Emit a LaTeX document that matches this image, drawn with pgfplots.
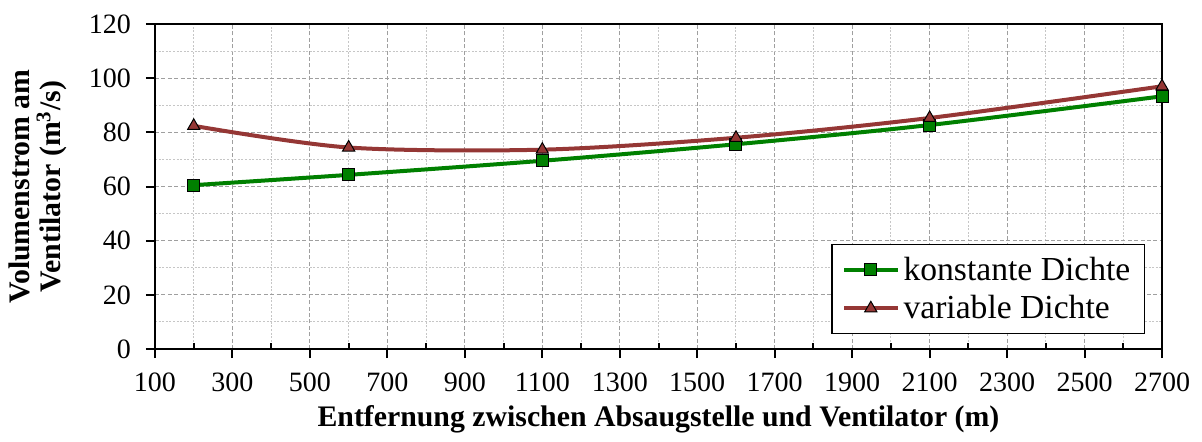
\documentclass[border=0pt]{standalone}
\usepackage{pgfplots}
\pgfplotsset{compat=1.18}
\usepackage{fontspec}
\setmainfont{Liberation Serif}
\definecolor{cgreen}{RGB}{0,128,0}
\definecolor{cred}{RGB}{149,55,53}
\begin{document}
\begin{tikzpicture}
\useasboundingbox (-77.5pt,-46pt) rectangle (523.5pt,174.5pt);
\begin{axis}[
  at={(0,0)}, anchor=south west,
  scale only axis, width=503.5pt, height=162.5pt,
  xmin=100, xmax=2700, ymin=0, ymax=120,
  xtick={100,300,...,2700}, ytick={0,20,...,120},
  minor xtick={200,400,...,2600}, minor ytick={10,30,...,110},
  xtick pos=bottom, ytick pos=left,
  grid=both,
  major grid style={gray!75, dash pattern=on 2pt off 1.2pt, line width=0.5pt},
  minor grid style={gray!45, dash pattern=on 1pt off 0.8pt, line width=0.5pt},
  axis line style={line width=1pt},
  tick align=outside,
  major tick length=4.5pt,
  minor tick length=3pt,
  tick style={black, line width=1pt},
  minor x tick style={yshift=3pt},
  minor y tick style={draw=none},
  /pgf/number format/assume math mode=true,
  /pgf/number format/1000 sep={},
  ticklabel style={font=\fontsize{14}{16}\selectfont},
  xticklabel style={yshift=-4pt},
  yticklabel style={xshift=-4pt},
  xlabel={\textbf{Entfernung zwischen Absaugstelle und Ventilator (m)}},
  ylabel={\textbf{Volumenstrom am}\\\textbf{Ventilator (m\textsuperscript{3}/s)}},
  label style={font=\fontsize{14.9}{15.5}\selectfont},
  ylabel style={align=center, yshift=4pt},
  legend style={at={(0.983,0.046)}, anchor=south east, draw=black, line width=0.6pt,
    font=\fontsize{16.8}{19}\selectfont, inner xsep=5pt, inner ysep=4pt,
    row sep=2pt},
  legend cell align=left,
  legend image code/.code={\draw[mark repeat=2,mark phase=2] plot coordinates {(0cm,0cm) (0.47cm,0cm) (0.94cm,0cm)};},
]
\addplot[cgreen, line width=2pt, smooth, mark=square*,
  mark options={fill=cgreen, draw=black, line width=0.5pt, solid}, mark size=3pt]
  coordinates {(200,60.5) (600,64.3) (1100,69.5) (1600,75.6) (2100,82.7) (2700,93.3)};
\addlegendentry{konstante Dichte}
\addplot[cred, line width=2pt, smooth, mark=triangle*,
  mark options={fill=cred, draw=black, line width=0.5pt, solid}, mark size=3.5pt]
  coordinates {(200,82.4) (600,74.4) (1100,73.6) (1600,78.0) (2100,85.3) (2700,97.0)};
\addlegendentry{variable Dichte}
\end{axis}
\end{tikzpicture}
\end{document}
